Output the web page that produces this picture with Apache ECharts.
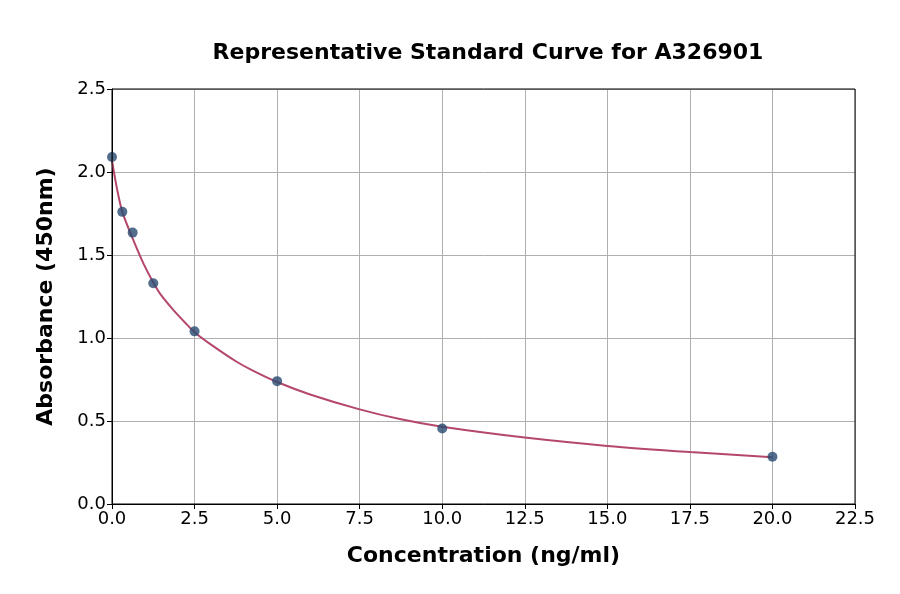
<!DOCTYPE html>
<html>
<head>
<meta charset="utf-8">
<script src="https://cdn.jsdelivr.net/npm/echarts@6/dist/echarts.min.js"></script>
<style>
  html, body { margin: 0; padding: 0; background: #fff; }
  #chart { width: 900px; height: 594px; }
</style>
</head>
<body>
<div id="chart"></div>
<script>
// standard points
var conc = [0, 0.3125, 0.625, 1.25, 2.5, 5, 10, 20];
var absorb = [2.09, 1.76, 1.635, 1.33, 1.04, 0.74, 0.455, 0.285];
// fitted curve
var curveX = [0, 0.15, 0.3125, 0.625, 0.95, 1.25, 1.5, 1.875, 2.25, 2.5, 3, 3.75, 4.25, 5, 6, 7.5, 8.75, 10, 12.5, 15, 17.5, 20];
var curveY = [2.07, 1.9, 1.76, 1.6, 1.45, 1.335, 1.255, 1.165, 1.085, 1.035, 0.96, 0.86, 0.805, 0.735, 0.66, 0.57, 0.51, 0.465, 0.4, 0.35, 0.313, 0.282];

var chart = echarts.init(document.getElementById('chart'));
var fontFam = 'DejaVu Sans';

function pairs(xs, ys) {
    return xs.map(function (x, i) { return [x, ys[i]]; });
}

chart.setOption({
    backgroundColor: '#fff',
    animation: false,
    title: {
        text: 'Representative Standard Curve for A326901',
        left: 483,
        top: 37,
        textAlign: 'center',
        textStyle: { fontFamily: fontFam, fontSize: 22, fontWeight: 'bold', color: '#000' }
    },
    grid: { left: 112, right: 45, top: 89, bottom: 90 },
    xAxis: {
        type: 'value',
        min: 0, max: 22.5, interval: 2.5,
        name: 'Concentration (ng/ml)',
        nameLocation: 'middle',
        nameGap: 41,
        nameTextStyle: { fontFamily: fontFam, fontSize: 22, fontWeight: 'bold', color: '#000' },
        axisLine: { show: true, onZero: false, lineStyle: { color: '#000', width: 1 } },
        axisTick: { show: true, length: 5, lineStyle: { color: '#000' } },
        axisLabel: { fontFamily: fontFam, fontSize: 18, color: '#000', margin: 6,
            formatter: function (v) { return v.toFixed(1); } },
        splitLine: { show: true, lineStyle: { color: '#b0b0b0', width: 1 } }
    },
    yAxis: {
        type: 'value',
        min: 0, max: 2.5, interval: 0.5,
        name: 'Absorbance (450nm)',
        nameLocation: 'middle',
        nameGap: 55,
        nameTextStyle: { fontFamily: fontFam, fontSize: 22, fontWeight: 'bold', color: '#000' },
        axisLine: { show: true, lineStyle: { color: '#000', width: 1 } },
        axisTick: { show: true, length: 5, lineStyle: { color: '#000' } },
        axisLabel: { fontFamily: fontFam, fontSize: 18, color: '#000', margin: 6,
            formatter: function (v) { return v.toFixed(1); } },
        splitLine: { show: true, lineStyle: { color: '#b0b0b0', width: 1 } }
    },
    series: [
        {
            type: 'line',
            data: pairs(curveX, curveY),
            smooth: 0.3,
            showSymbol: false,
            lineStyle: { color: '#b5476b', width: 2 },
            z: 2
        },
        {
            type: 'scatter',
            data: pairs(conc, absorb),
            symbolSize: 10,
            itemStyle: { color: '#284a70' },
            z: 3
        }
    ],
    graphic: [{
        type: 'rect',
        shape: { x: 112, y: 89, width: 743, height: 415 },
        style: { fill: 'none', stroke: '#000', lineWidth: 1 },
        z: 10
    }]
});
</script>
</body>
</html>
